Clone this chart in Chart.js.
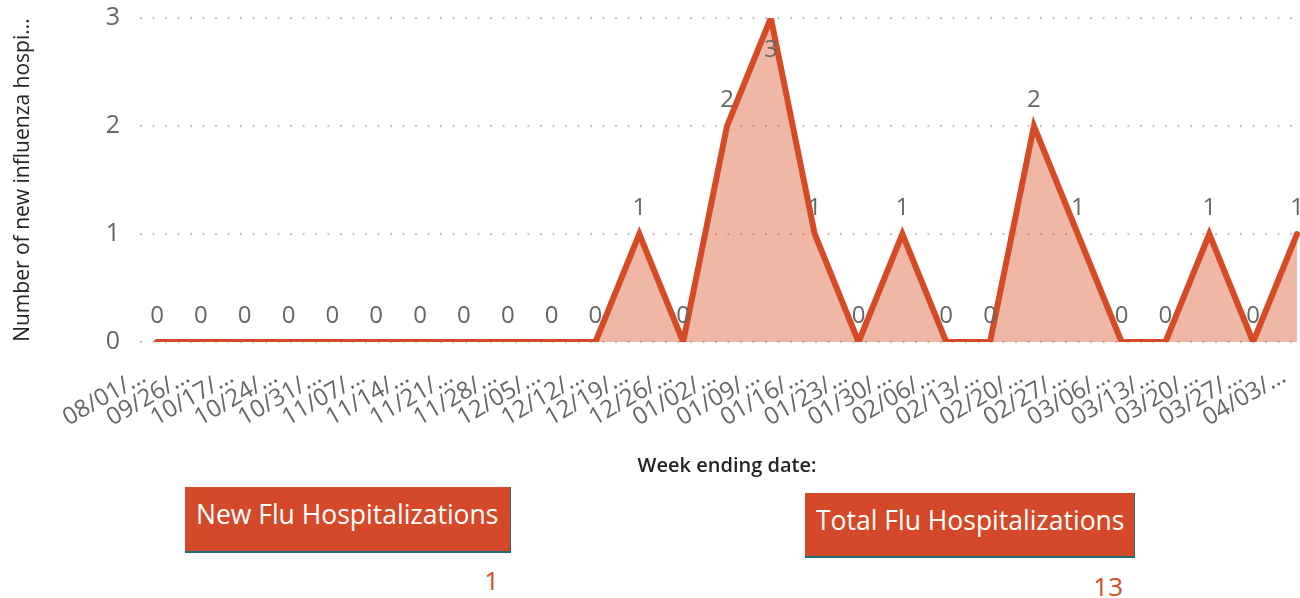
<!DOCTYPE html>
<html><head><meta charset="utf-8">
<script src="https://cdn.jsdelivr.net/npm/chart.js@4"></script>
<style>
html,body{margin:0;padding:0;background:#fff;width:1300px;height:598px;overflow:hidden;font-family:"Open Sans",sans-serif;}
#c{position:absolute;left:0;top:0;}
.box{position:absolute;background:#D4492A;color:#fff;font-size:26.5px;box-sizing:border-box;border-bottom:2px solid #1d6c7a;border-right:1px solid #1d6c7a;white-space:nowrap;line-height:36px;}
.val{position:absolute;color:#D64A26;font-size:26px;line-height:34px;}
</style></head><body>
<canvas id="c" width="1300" height="480"></canvas>
<div class="box" id="b1" style="left:185px;top:487px;width:326px;height:66px;padding:9px 0 0 11px;"></div>
<div class="val" id="v1" style="right:801px;top:563px;"></div>
<div class="box" id="b2" style="left:805px;top:493px;width:330px;height:65px;padding:9px 0 0 11px;"></div>
<div class="val" id="v2" style="right:177px;top:569px;"></div>
<script>
const weekLabels = ["08/01/…","09/26/…","10/17/…","10/24/…","10/31/…","11/07/…","11/14/…","11/21/…","11/28/…","12/05/…","12/12/…","12/19/…","12/26/…","01/02/…","01/09/…","01/16/…","01/23/…","01/30/…","02/06/…","02/13/…","02/20/…","02/27/…","03/06/…","03/13/…","03/20/…","03/27/…","04/03/…"];
const newHospitalizations = [0,0,0,0,0,0,0,0,0,0,0,1,0,2,3,1,0,1,0,0,2,1,0,0,1,0,1];
const yTicks = [0,1,2,3];
const cardTitles = ["New Flu Hospitalizations","Total Flu Hospitalizations"];
const cardValues = [1,13];

document.getElementById('b1').textContent = cardTitles[0];
document.getElementById('b2').textContent = cardTitles[1];
document.getElementById('v1').textContent = cardValues[0];
document.getElementById('v2').textContent = cardValues[1];

const LINE = 'rgb(214,74,38)';
const FONT = '"Open Sans", sans-serif';

const dottedGrid = {
  id:'dottedGrid',
  beforeDatasetsDraw(chart){
    const {ctx, chartArea:a, scales:{y}} = chart;
    ctx.save();
    ctx.fillStyle = '#c6c6c6';
    yTicks.forEach(v=>{
      const py = Math.round(y.getPixelForValue(v));
      for(let x=a.left-16; x<=a.right; x+=12.5){
        ctx.beginPath(); ctx.arc(x, py, 1.2, 0, Math.PI*2); ctx.fill();
      }
    });
    ctx.restore();
  }
};
const valueLabels = {
  id:'valueLabels',
  afterDatasetsDraw(chart){
    const {ctx} = chart;
    const meta = chart.getDatasetMeta(0);
    const data = chart.data.datasets[0].data;
    const max = Math.max(...data);
    ctx.save();
    ctx.font = '24px '+FONT;
    ctx.fillStyle = '#666';
    ctx.textAlign = 'center';
    ctx.textBaseline = 'middle';
    meta.data.forEach((pt,i)=>{
      const v = data[i];
      const dy = v===max ? 32 : -26;
      ctx.fillText(String(v), pt.x, pt.y+dy);
    });
    ctx.restore();
  }
};

new Chart(document.getElementById('c'), {
  type:'line',
  data:{labels:weekLabels, datasets:[{
    data:newHospitalizations,
    borderColor:LINE, borderWidth:6, backgroundColor:'rgba(214,74,38,0.4)',
    fill:'origin', tension:0, pointRadius:0, borderJoinStyle:'miter', borderCapStyle:'round'
  }]},
  options:{
    responsive:false, animation:false,
    layout:{padding:{left:10,top:18,right:3,bottom:0}},
    plugins:{legend:{display:false}, tooltip:{enabled:false}},
    scales:{
      x:{
        offset:false,
        grid:{display:false, drawTicks:false},
        border:{display:false},
        ticks:{autoSkip:false, maxRotation:30, minRotation:30, padding:20, labelOffset:-13, color:'#666', font:{family:FONT, size:24}},
        title:{display:true, text:'Week ending date:', color:'#252423', font:{family:FONT, size:20, weight:'600'}, padding:{top:0,bottom:2}},
        afterFit(s){ s.height = 480-342; s.paddingLeft=0; s.paddingRight=0; s.paddingTop=0; s.paddingBottom=0; }
      },
      y:{
        min:0, max:3,
        grid:{display:false, drawTicks:false},
        border:{display:false},
        ticks:{stepSize:1, padding:37, color:'#666', font:{family:FONT, size:25}},
        title:{display:true, text:'Number of new influenza hospi...', color:'#252423', font:{family:FONT, size:21}, padding:{top:0,bottom:0}},
        afterFit(s){ s.width = 157-10; s.paddingTop=0; s.paddingBottom=0; s.paddingLeft=0; s.paddingRight=0; }
      }
    }
  },
  plugins:[dottedGrid, valueLabels]
});
</script>
</body></html>
